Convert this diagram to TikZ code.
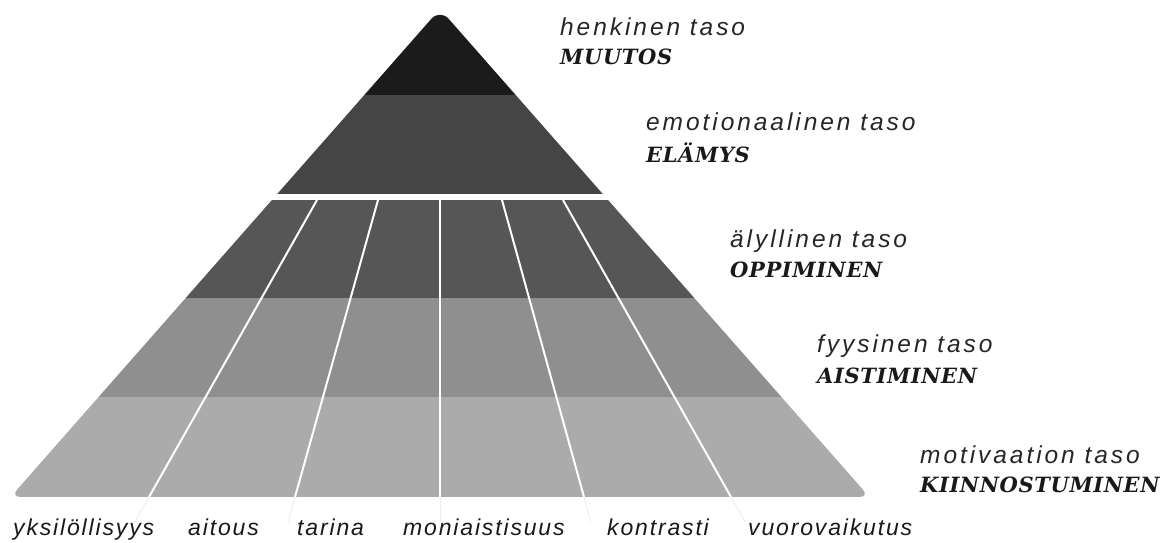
\documentclass[tikz,border=0pt]{standalone}
\usepackage{fontspec}
\setmainfont{Liberation Sans}
\newfontfamily\tasofont[LetterSpace=12]{Liberation Sans}
\newfontfamily\piirrefont[LetterSpace=8]{Liberation Sans}
\newfontfamily\nimifont[LetterSpace=3]{DejaVu Serif}
\usetikzlibrary{calc}
\definecolor{kerros1}{HTML}{1B1B1B}
\definecolor{kerros2}{HTML}{454545}
\definecolor{kerros3}{HTML}{565656}
\definecolor{kerros4}{HTML}{8E8F8E}
\definecolor{kerros5}{HTML}{ABABAB}
\tikzset{x=1pt, y=-1pt,
taso/.style={ % level line, italic sans
anchor=base west, inner sep=0pt, text=black!85,
font=\tasofont\itshape\fontsize{24.5}{28}\selectfont},
nimi/.style={ % level name, bold serif
anchor=base west, inner sep=0pt, text=black!90,
font=\nimifont\bfseries\itshape\fontsize{21}{25}\selectfont},
piirre/.style={ % labels under the pyramid
anchor=base west, inner sep=0pt, text=black!90,
font=\piirrefont\itshape\fontsize{23}{27}\selectfont},
jakaja/.style={draw=white, line width=2pt}}

\begin{document}
\begin{tikzpicture}
\useasboundingbox (0,0) rectangle (1174,542);
\coordinate (vasen) at (10.6,497);
\coordinate (huippu) at (440,9);
\coordinate (oikea) at (869.4,497);
\foreach \i/\xt/\xb in {1/317/149, 2/378/295, 3/440/440, 4/502/584, 5/563/731}{
\coordinate (t\i) at (\xt,200);
\coordinate (b\i) at (\xb,497);
}
\begin{scope}
\clip (440,497) [rounded corners=10] -- (vasen) [rounded corners=13] -- (huippu) [rounded corners=10] -- (oikea) [sharp corners] -- cycle;
\fill[kerros1] (0,0) rectangle (1174,95);
\fill[kerros2] (0,95) rectangle (1174,194);
\fill[kerros3] (0,200) rectangle (1174,298);
\fill[kerros4] (0,298) rectangle (1174,397);
\fill[kerros5] (0,397) rectangle (1174,497);
\foreach \i in {1,...,5}
\draw[jakaja] (t\i) -- (b\i);
\end{scope}
\foreach \i in {1,...,5}
\draw[black!7, line width=1pt] (b\i) -- ($(t\i)!1.085!(b\i)$);

\node[taso] (henkinen) at (560,35) {henkinen taso};
\node[nimi] (muutos) at (560,64) {MUUTOS};
\node[taso] (emotionaalinen) at (646,130) {emotionaalinen taso};
\node[nimi] (elamys) at (646,162) {ELÄMYS};
\node[taso] (alyllinen) at (730,247) {älyllinen taso};
\node[nimi] (oppiminen) at (730,277) {OPPIMINEN};
\node[taso] (fyysinen) at (817,352) {fyysinen taso};
\node[nimi] (aistiminen) at (817,383) {AISTIMINEN};
\node[taso] (motivaatio) at (920,463) {motivaation taso};
\node[nimi] (kiinnostuminen) at (920,492) {KIINNOSTUMINEN};

\node[piirre] (yksilollisyys) at (13,535) {yksilöllisyys};
\node[piirre] (aitous) at (188,535) {aitous};
\node[piirre] (tarina) at (297,535) {tarina};
\node[piirre] (moniaistisuus) at (403,535) {moniaistisuus};
\node[piirre] (kontrasti) at (607,535) {kontrasti};
\node[piirre] (vuorovaikutus) at (748,535) {vuorovaikutus};
\end{tikzpicture}
\end{document}
